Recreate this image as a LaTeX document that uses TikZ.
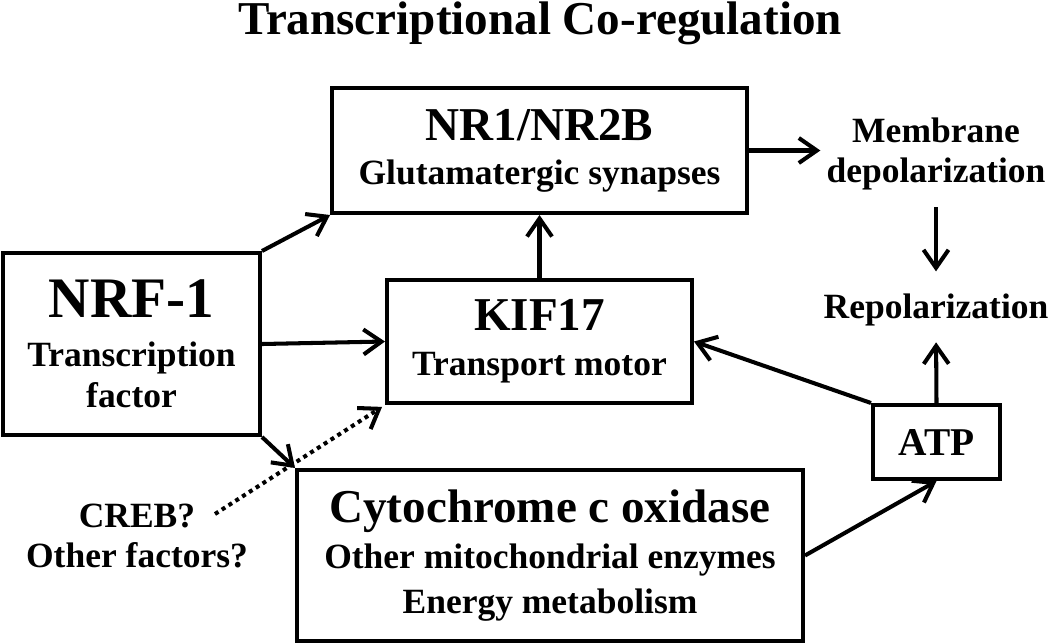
\documentclass[tikz,border=0pt]{standalone}
\usepackage{fontspec}
\setmainfont{Liberation Serif}
\usetikzlibrary{arrows.meta}
\newcommand{\hugesize}{\fontsize{32.6pt}{36pt}\selectfont}
\newcommand{\bigsize}{\fontsize{26.8pt}{30pt}\selectfont}
\newcommand{\atpsize}{\fontsize{22.4pt}{26pt}\selectfont}
\newcommand{\smallsize}{\fontsize{20.2pt}{23.2pt}\selectfont}
\tikzstyle{box} = [rectangle, draw=black, line width=2.3pt, align=center, inner sep=0pt, font=\bfseries\smallsize]
\tikzstyle{label} = [align=center, font=\bfseries\smallsize]
\tikzstyle{arrow} = [line width=2.3pt, -{Straight Barb[length=3.6mm, width=5mm, line width=2.3pt]}]

\begin{document}
\begin{tikzpicture}[x=0.02cm, y=-0.02cm]
        \useasboundingbox (0,0) rectangle (1050,643);
        \node (title) [anchor=base, font=\bfseries\bigsize] at (540,34) {Transcriptional Co-regulation};
        \node (nrf) [box, minimum width=5.14cm, minimum height=3.64cm] at (131.5,344) {{\hugesize NRF-1}\\[4.6pt]Transcription\\factor};
        \node (nr) [box, minimum width=8.3cm, minimum height=2.5cm] at (539.5,150.5) {{\bigsize NR1/NR2B}\\[1.7pt]Glutamatergic synapses};
        \node (kif) [box, minimum width=6.1cm, minimum height=2.46cm] at (539.5,341.5) {{\bigsize KIF17}\\[2.3pt]Transport motor};
        \node (cyto) [box, minimum width=10.12cm, minimum height=3.42cm] at (550,555.5) {{\bigsize Cytochrome c oxidase}\\[2.9pt]Other mitochondrial enzymes\\[2.3pt]Energy metabolism};
        \node (atp) [box, minimum width=2.54cm, minimum height=1.48cm] at (936.5,442) {\atpsize ATP};
        \node (membr) [label] at (936,154) {Membrane\\depolarization};
        \node (repol) [label, anchor=base] at (936,318) {Repolarization};
        \node (creb) [label] at (137,536) {CREB?\\Other factors?};
        \coordinate (dotstart) at (215,514);

        \draw[arrow] (nrf.north east) -- (nr.south west);
        \draw[arrow] (nrf.east) -- (kif.west);
        \draw[arrow] (nrf.south east) -- (cyto.north west);
        \draw[arrow] (kif.north) -- (nr.south);
        \draw[arrow] (nr.east) -- (nr.east -| membr.west);
        \draw[arrow, shorten <=6pt, shorten >=9pt] (membr.south) -- (repol.north);
        \draw[arrow, shorten >=6pt] (atp.north) -- (repol.south);
        \draw[arrow] (atp.north west) -- (kif.east);
        \draw[arrow] (cyto.east) -- (atp.south);
        \draw[arrow, dash pattern=on 2.3pt off 2.3pt, shorten >=2pt] (dotstart) -- (kif.south west);
    \end{tikzpicture}
\end{document}
